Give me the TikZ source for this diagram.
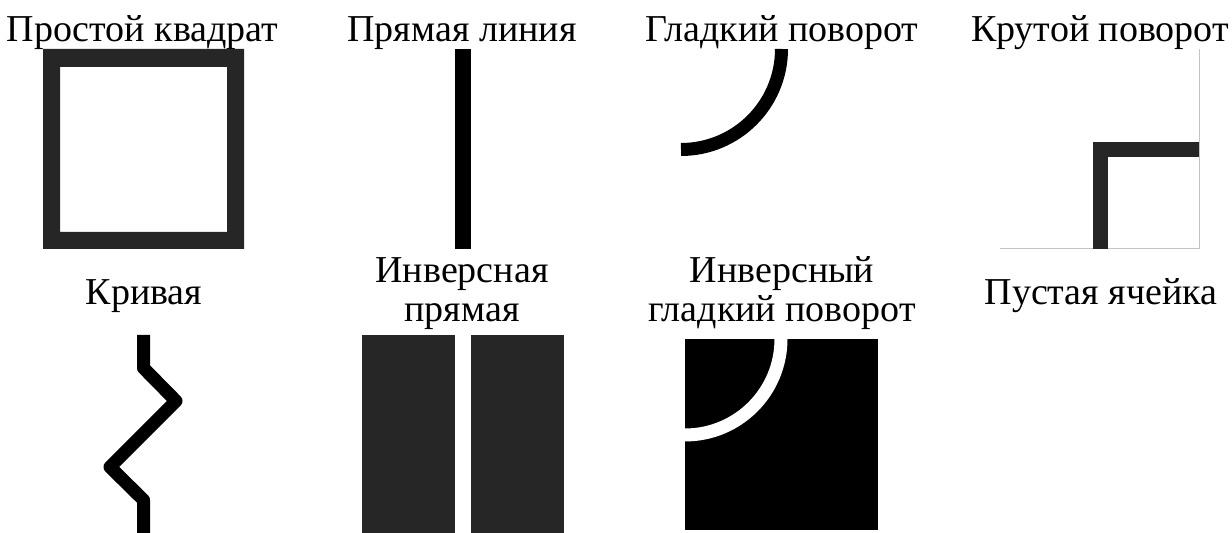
\documentclass[tikz,border=0pt]{standalone}
\usepackage{fontspec}
\setmainfont{Liberation Serif}
\usepackage{tikz}
\definecolor{tileink}{HTML}{262626}
\definecolor{tilerule}{HTML}{C4C4C4}
\tikzstyle{tilelabel} = [anchor=base, inner sep=0pt, align=center, font=\fontsize{19}{19.5}\selectfont]
\tikzstyle{track} = [draw=black, line width=6.5pt]
\tikzstyle{gap} = [draw=white, line width=6.5pt]

\begin{document}
\begin{tikzpicture}[x=0.5pt, y=0.5pt]
    \useasboundingbox (0,0) rectangle (1232,533);
    % upper row
    \draw (142.5,491) node[tilelabel] (sq) {Простой квадрат};
    \draw (462,491) node[tilelabel] (ln) {Прямая линия};
    \draw (782,491) node[tilelabel] (sm) {Гладкий поворот};
    \draw (1100,491) node[tilelabel] (sh) {Крутой поворот};
    \fill [tileink, even odd rule] (43,284) rectangle (244,484) (60,301) rectangle (227,466);
    \draw [track, line width=8pt] (463,484) -- (463,284);
    \draw [track] (781.5,484) arc [start angle=0, end angle=-90, radius=100.5];
    \draw [tilerule, line width=0.5pt] (1000,284) -- (1199,284) -- (1199,484);
    \draw [tileink, line width=7.5pt] (1199,383.5) -- (1100.5,383.5) -- (1100.5,284);
    % lower row
    \draw (144,228) node[tilelabel] (cv) {Кривая};
    \draw (462,211) node[tilelabel] (il) {Инверсная\\прямая};
    \draw (782,211) node[tilelabel] (is) {Инверсный\\гладкий поворот};
    \draw (1101,228) node[tilelabel] (em) {Пустая ячейка};
    \draw [track, line join=round] (143.5,198) -- (143.5,165) -- (176,132) -- (110,66) -- (143.5,33) -- (143.5,0);
    \fill [tileink] (362,0) rectangle (455,198);
    \fill [tileink] (471,0) rectangle (564,198);
    \fill [black] (685,3) rectangle (878,194);
    \draw [gap] (781,194) arc [start angle=0, end angle=-90, radius=96];
\end{tikzpicture}
\end{document}
